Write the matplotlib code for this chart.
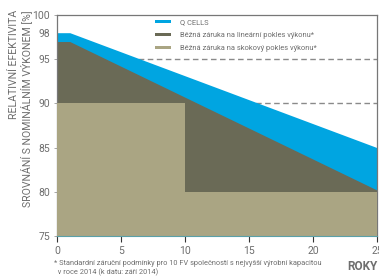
import numpy as np
from matplotlib import pyplot as plt

plt.rcParams["font.family"] = ["Roboto", "DejaVu Sans"]

# ---- data ----
qcells_years = [0, 1, 25]
qcells_vals = [98, 98, 85]
linear_years = [0, 1, 25]
linear_vals = [97, 97, 80.2]
step_years = [0, 10, 25]
step_vals = [90, 80, 80]
y_ticks = [75, 80, 85, 90, 95, 100]
x_ticks = [0, 5, 10, 15, 20, 25]
dash_levels = [95, 90]

c_blue = "#00a5e1"
c_dark = "#6a6a56"
c_khaki = "#aaa583"
c_text = "#6e6e6e"

fig = plt.figure(figsize=(3.79, 2.78), dpi=100)
ax = fig.add_axes([0.1504, 0.151, 0.8443, 0.795])

for lv in dash_levels:
    ax.axhline(lv, color="#8a8a8a", lw=1.0, ls=(0, (4, 2.5)), zorder=0)

ax.fill_between(qcells_years, qcells_vals, 75, color=c_blue, lw=0, zorder=1, label="Q CELLS")
ax.fill_between(linear_years, linear_vals, 75, color=c_dark, lw=0, zorder=2,
                label="Běžná záruka na lineární pokles výkonu*")
ax.fill_between(step_years, step_vals, 75, step="post", color=c_khaki, lw=0, zorder=3,
                label="Běžná záruka na skokový pokles výkonu*")

ax.set_xlim(0, 25)
ax.set_ylim(75, 100)
ax.set_xticks(x_ticks)
ax.set_yticks(y_ticks + [98])
ax.set_yticklabels([str(v) for v in y_ticks] + ["98"])
ax.get_yticklabels()[-1].set_color(c_blue)
ax.tick_params(axis="x", direction="out", length=4, width=0.8, color="#333333",
               labelsize=7.5, labelcolor=c_text, pad=3)
ax.tick_params(axis="y", direction="out", length=2, width=0.6, color="#999999",
               labelsize=7.5, labelcolor=c_text, pad=3)
ax.yaxis.get_major_ticks()[-1].tick1line.set_visible(False)
for s in ["top", "right", "left"]:
    ax.spines[s].set_color("#777777")
    ax.spines[s].set_linewidth(0.9)
ax.spines["bottom"].set_color("#5aa0a8")
ax.spines["bottom"].set_linewidth(0.8)
ax.spines["bottom"].set_zorder(4)

leg = ax.legend(loc="upper left", bbox_to_anchor=(0.29, 1.005), frameon=False,
                fontsize=5.4, handlelength=2.1, handleheight=0.4, handletextpad=1.2,
                labelspacing=0.8, borderpad=0.2)
for t in leg.get_texts():
    t.set_color(c_text)

fig.text(0.025, 0.964, "RELATIVNÍ EFEKTIVITA\nSROVNÁNÍ S NOMINÁLNÍM VÝKONEM [%]",
         rotation=90, va="top", ha="left", multialignment="right",
         fontsize=7.6, color=c_text, linespacing=1.1)
fig.text(0.995, 0.04, "ROKY", ha="right", va="center", fontsize=8.5,
         fontweight="bold", color=c_text)
fig.text(0.142, 0.036, "* Standardní záruční podmínky pro 10 FV společností s nejvyšší výrobní kapacitou\n  v roce 2014 (k datu: září 2014)",
         ha="left", va="center", fontsize=5.3, color=c_text, linespacing=1.3)

fig.savefig("out.png", dpi=100)
